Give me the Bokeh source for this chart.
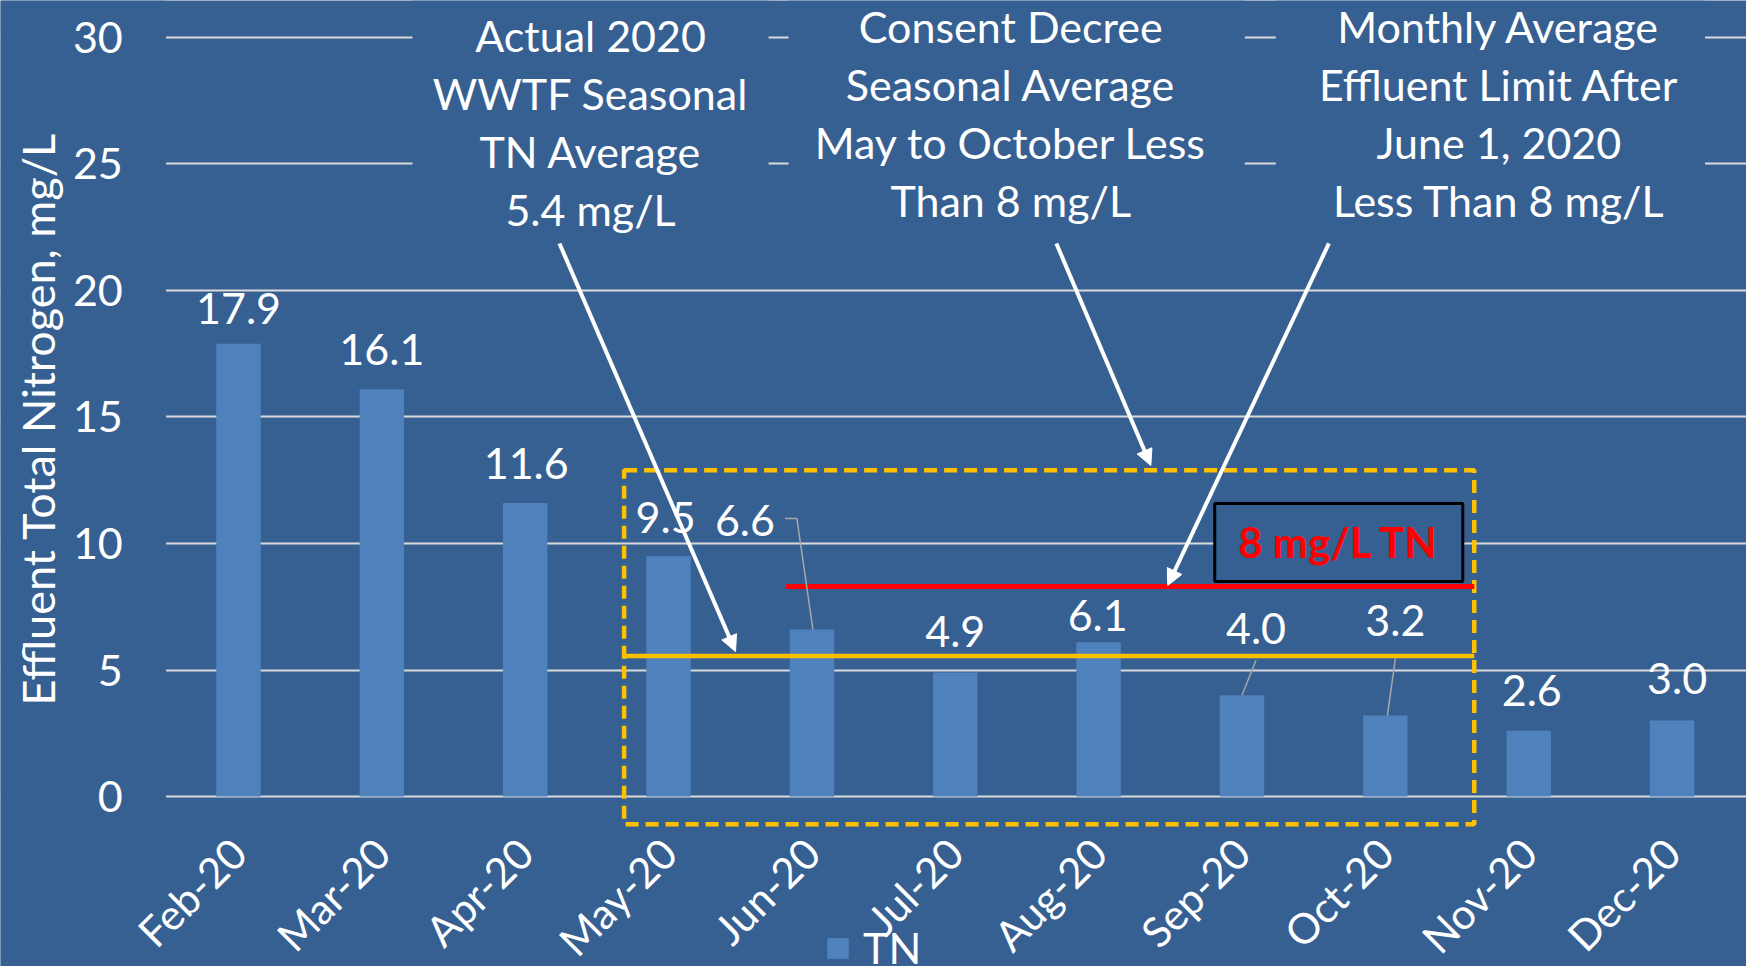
import math
from bokeh.plotting import figure
from bokeh.models import (Range1d, FixedTicker, ColumnDataSource, Arrow, NormalHead,
                          Legend, LegendItem)
from bokeh.core.properties import value
from bokeh.embed import file_html
from bokeh.resources import INLINE

# ---------------- data ----------------
months = ["Feb-20", "Mar-20", "Apr-20", "May-20", "Jun-20", "Jul-20",
          "Aug-20", "Sep-20", "Oct-20", "Nov-20", "Dec-20"]
tn = [17.9, 16.1, 11.6, 9.5, 6.6, 4.9, 6.1, 4.0, 3.2, 2.6, 3.0]
y_ticks = [0, 5, 10, 15, 20, 25, 30]
seasonal_line = 5.55      # drawn "Actual 2020 seasonal average" line
limit_line = 8.3          # drawn "8 mg/L TN" limit line

y_title = "Effluent Total Nitrogen, mg/L"
note1 = "Actual 2020\nWWTF Seasonal\nTN Average\n5.4 mg/L"
note2 = "Consent Decree\nSeasonal Average\nMay to October Less\nThan 8 mg/L"
note3 = "Monthly Average\nEffluent Limit After\nJune 1, 2020\nLess Than 8 mg/L"
limit_text = "8 mg/L TN"

# ---------------- styles ----------------
BG = "#376092"
BAR = "#4F81BD"
GRID = "#D9D9D9"
YEL = "#FFC000"
FONT = "Lato"
FS = "43px"

W, H = 1746, 966
PX_PER_CAT = 143.36
X0 = -0.5 - 166.3 / PX_PER_CAT
X1 = X0 + W / PX_PER_CAT
Y0, Y1 = -6.719, 31.462
XS = W / (X1 - X0)
YS = H / (Y1 - Y0)

# data-label screen offsets (px; negative dy = up)
lbl_dx = [0, 0, 1, -3, -67, 0, -1, 14, 10, 3, 5]
lbl_dy = [-35, -40, -40, -39, -109, -41, -27, -67, -95, -40, -42]
# leader lines (px offsets relative to bar top centre)
leaders = {4: [(-27, -111), (-15, -111), (1, 0)],
           7: [(14, -35), (0, 0)],
           8: [(10, -57), (2, 0)]}

p = figure(width=W, height=H, x_range=Range1d(X0, X1), y_range=Range1d(Y0, Y1),
           output_backend="svg", toolbar_location=None,
           background_fill_color=BG, border_fill_color=BG, outline_line_color=None,
           min_border_left=0, min_border_right=0, min_border_top=0,
           min_border_bottom=0)

# grid
p.xgrid.visible = False
p.ygrid.ticker = FixedTicker(ticks=y_ticks)
p.ygrid.grid_line_color = GRID
p.ygrid.grid_line_width = 2

# y axis (pinned at the left edge of the category area)
p.yaxis.fixed_location = -0.5
p.yaxis.ticker = FixedTicker(ticks=y_ticks)
p.yaxis.axis_line_color = None
p.yaxis.major_tick_line_color = None
p.yaxis.minor_tick_line_color = None
p.yaxis.major_label_text_color = "white"
p.yaxis.major_label_text_font = FONT
p.yaxis.major_label_text_font_size = FS
p.yaxis.major_label_standoff = 38

# x axis (pinned just below the season box)
p.xaxis.fixed_location = -1.54
p.xaxis.ticker = FixedTicker(ticks=list(range(len(months))))
p.xaxis.major_label_overrides = {i: m for i, m in enumerate(months)}
p.xaxis.major_label_orientation = math.pi / 4
p.xaxis.axis_line_color = None
p.xaxis.major_tick_line_color = None
p.xaxis.minor_tick_line_color = None
p.xaxis.major_label_text_color = "white"
p.xaxis.major_label_text_font = FONT
p.xaxis.major_label_text_font_size = "42px"
p.xaxis.major_label_standoff = 4

# mask the grid left of the first category slot
p.quad(left=[X0], right=[-0.505], bottom=[Y0], top=[Y1], fill_color=BG, line_color=None)

# y-axis title
p.text(x=[X0 + 37 / XS], y=[14.92], text=[y_title], angle=math.pi / 2,
       text_align="center", text_baseline="middle", text_color="white",
       text_font=value(FONT), text_font_size="45px")

# bars
src = ColumnDataSource(dict(x=list(range(len(months))), top=tn,
                            lbl=["%.1f" % v for v in tn], dx=lbl_dx, dy=lbl_dy))
bars = p.vbar(x="x", top="top", width=0.31, bottom=0, source=src,
              fill_color=BAR, line_color=None)

# note boxes (mask gridlines behind the notes)
p.quad(left=[1.214, 3.837, 7.236], right=[3.698, 7.02, 10.23],
       bottom=[22.0, 22.0, 22.0], top=[Y1, Y1, Y1], fill_color=BG, line_color=None)
p.text(x=[2.456, 5.387, 8.792], y=[26.65, 27.0, 27.0], text=[note1, note2, note3],
       text_align="center", text_baseline="middle", text_color="white",
       text_font=value(FONT), text_font_size=FS, text_line_height=1.14)

# seasonal average line and dashed season box
p.segment(x0=[2.69], y0=[seasonal_line], x1=[8.62], y1=[seasonal_line],
          line_color=YEL, line_width=4.5)
p.quad(left=[2.69], right=[8.62], bottom=[-1.1], top=[12.9], fill_color=None,
       line_color=YEL, line_width=4.5, line_dash="13 7")

# limit line and its boxed label
p.segment(x0=[3.82], y0=[limit_line], x1=[8.62], y1=[limit_line],
          line_color="#FF0000", line_width=5)
p.quad(left=[6.81], right=[8.54], bottom=[8.5], top=[11.58], fill_color=BG,
       line_color="black", line_width=3)
p.text(x=[7.675], y=[10.04], text=[limit_text], text_align="center",
       text_baseline="middle", text_color="#FF0000", text_font=value(FONT),
       text_font_size="42px", text_font_style="bold")

# leader lines
xs, ys = [], []
for i, pts in leaders.items():
    xs.append([i + dx / XS for dx, dy in pts])
    ys.append([tn[i] - dy / YS for dx, dy in pts])
p.multi_line(xs=xs, ys=ys, line_color="#A6A6A6", line_width=1.5)

# data labels
p.text(x="x", y="top", text="lbl", x_offset="dx", y_offset="dy", source=src,
       text_align="center", text_baseline="middle", text_color="white",
       text_font=value(FONT), text_font_size=FS)

# arrows
for (xa, ya, xb, yb) in [(2.239, 21.86, 3.467, 5.73),
                         (5.705, 21.86, 6.364, 13.08),
                         (7.606, 21.86, 6.482, 8.34)]:
    p.add_layout(Arrow(x_start=xa, y_start=ya, x_end=xb, y_end=yb,
                       line_color="white", line_width=4,
                       end=NormalHead(size=16, fill_color="white", line_color="white",
                                      line_width=1)))

# legend
legend = Legend(items=[LegendItem(label="TN", renderers=[bars])], location=(824, -7),
                background_fill_alpha=0, border_line_color=None, padding=0, margin=0,
                label_text_font=FONT, label_text_font_size=FS, label_text_color="white",
                glyph_width=27, glyph_height=26, label_standoff=12)
p.add_layout(legend)

open("out.html", "w").write(file_html(p, INLINE))
